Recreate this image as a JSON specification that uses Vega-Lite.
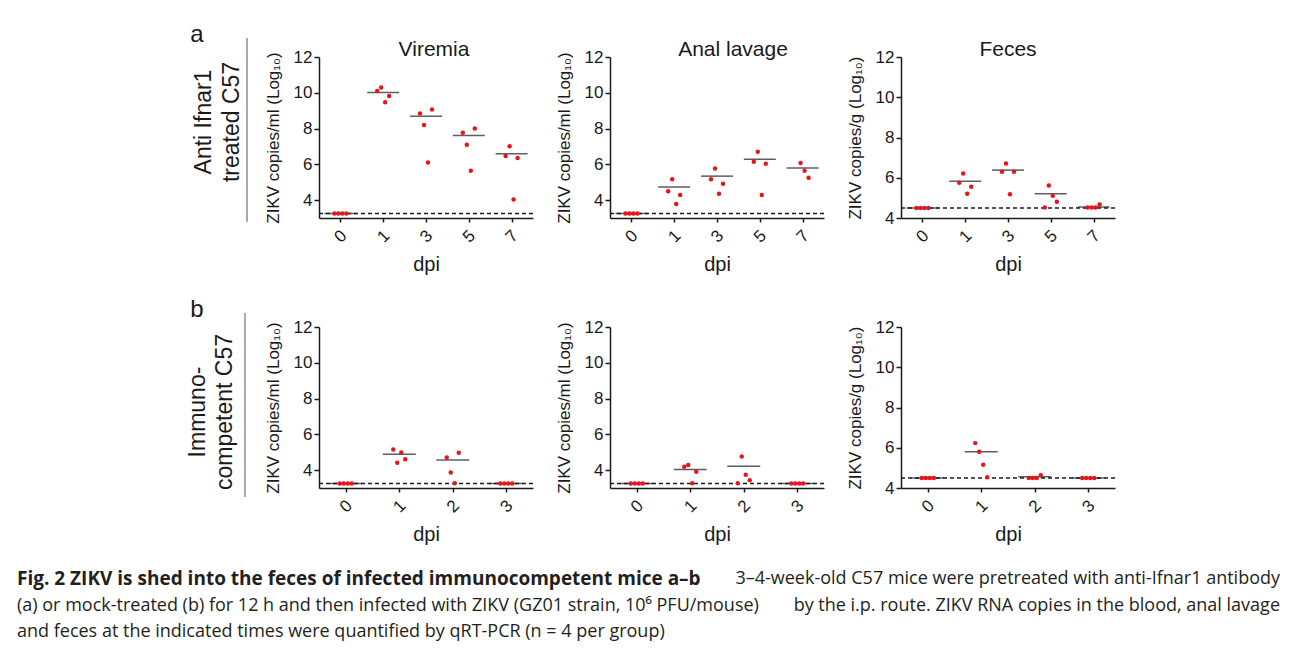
{
  "$schema": "https://vega.github.io/schema/vega-lite/v6.json",
  "background": "white",
  "padding": {"left": 17, "top": 23, "right": 0, "bottom": 0},
  "spacing": 23,
  "datasets": {
    "d": [
      {"row": "a", "tissue": "Viremia", "kind": "lod", "value": 3.25},
      {"row": "a", "tissue": "Viremia", "kind": "med", "dpi": "0", "value": 3.25},
      {"row": "a", "tissue": "Viremia", "kind": "med", "dpi": "1", "value": 10.01},
      {"row": "a", "tissue": "Viremia", "kind": "med", "dpi": "3", "value": 8.69},
      {"row": "a", "tissue": "Viremia", "kind": "med", "dpi": "5", "value": 7.61},
      {"row": "a", "tissue": "Viremia", "kind": "med", "dpi": "7", "value": 6.59},
      {"row": "a", "tissue": "Viremia", "kind": "pt", "dpi": "0", "mouse": 1, "value": 3.25},
      {"row": "a", "tissue": "Viremia", "kind": "pt", "dpi": "0", "mouse": 2, "value": 3.25},
      {"row": "a", "tissue": "Viremia", "kind": "pt", "dpi": "0", "mouse": 3, "value": 3.25},
      {"row": "a", "tissue": "Viremia", "kind": "pt", "dpi": "0", "mouse": 4, "value": 3.25},
      {"row": "a", "tissue": "Viremia", "kind": "pt", "dpi": "1", "mouse": 1, "value": 10.10},
      {"row": "a", "tissue": "Viremia", "kind": "pt", "dpi": "1", "mouse": 2, "value": 10.29},
      {"row": "a", "tissue": "Viremia", "kind": "pt", "dpi": "1", "mouse": 3, "value": 9.47},
      {"row": "a", "tissue": "Viremia", "kind": "pt", "dpi": "1", "mouse": 4, "value": 9.82},
      {"row": "a", "tissue": "Viremia", "kind": "pt", "dpi": "3", "mouse": 1, "value": 8.84},
      {"row": "a", "tissue": "Viremia", "kind": "pt", "dpi": "3", "mouse": 2, "value": 8.20},
      {"row": "a", "tissue": "Viremia", "kind": "pt", "dpi": "3", "mouse": 3, "value": 6.10},
      {"row": "a", "tissue": "Viremia", "kind": "pt", "dpi": "3", "mouse": 4, "value": 9.06},
      {"row": "a", "tissue": "Viremia", "kind": "pt", "dpi": "5", "mouse": 1, "value": 7.76},
      {"row": "a", "tissue": "Viremia", "kind": "pt", "dpi": "5", "mouse": 2, "value": 7.09},
      {"row": "a", "tissue": "Viremia", "kind": "pt", "dpi": "5", "mouse": 3, "value": 5.64},
      {"row": "a", "tissue": "Viremia", "kind": "pt", "dpi": "5", "mouse": 4, "value": 8.00},
      {"row": "a", "tissue": "Viremia", "kind": "pt", "dpi": "7", "mouse": 1, "value": 6.47},
      {"row": "a", "tissue": "Viremia", "kind": "pt", "dpi": "7", "mouse": 2, "value": 7.01},
      {"row": "a", "tissue": "Viremia", "kind": "pt", "dpi": "7", "mouse": 3, "value": 4.04},
      {"row": "a", "tissue": "Viremia", "kind": "pt", "dpi": "7", "mouse": 4, "value": 6.36},

      {"row": "a", "tissue": "Anal", "kind": "lod", "value": 3.25},
      {"row": "a", "tissue": "Anal", "kind": "med", "dpi": "0", "value": 3.25},
      {"row": "a", "tissue": "Anal", "kind": "med", "dpi": "1", "value": 4.73},
      {"row": "a", "tissue": "Anal", "kind": "med", "dpi": "3", "value": 5.34},
      {"row": "a", "tissue": "Anal", "kind": "med", "dpi": "5", "value": 6.29},
      {"row": "a", "tissue": "Anal", "kind": "med", "dpi": "7", "value": 5.80},
      {"row": "a", "tissue": "Anal", "kind": "pt", "dpi": "0", "mouse": 1, "value": 3.25},
      {"row": "a", "tissue": "Anal", "kind": "pt", "dpi": "0", "mouse": 2, "value": 3.25},
      {"row": "a", "tissue": "Anal", "kind": "pt", "dpi": "0", "mouse": 3, "value": 3.25},
      {"row": "a", "tissue": "Anal", "kind": "pt", "dpi": "0", "mouse": 4, "value": 3.25},
      {"row": "a", "tissue": "Anal", "kind": "pt", "dpi": "1", "mouse": 1, "value": 4.50},
      {"row": "a", "tissue": "Anal", "kind": "pt", "dpi": "1", "mouse": 2, "value": 5.17},
      {"row": "a", "tissue": "Anal", "kind": "pt", "dpi": "1", "mouse": 3, "value": 3.78},
      {"row": "a", "tissue": "Anal", "kind": "pt", "dpi": "1", "mouse": 4, "value": 4.28},
      {"row": "a", "tissue": "Anal", "kind": "pt", "dpi": "3", "mouse": 1, "value": 5.17},
      {"row": "a", "tissue": "Anal", "kind": "pt", "dpi": "3", "mouse": 2, "value": 5.77},
      {"row": "a", "tissue": "Anal", "kind": "pt", "dpi": "3", "mouse": 3, "value": 4.35},
      {"row": "a", "tissue": "Anal", "kind": "pt", "dpi": "3", "mouse": 4, "value": 4.91},
      {"row": "a", "tissue": "Anal", "kind": "pt", "dpi": "5", "mouse": 1, "value": 6.14},
      {"row": "a", "tissue": "Anal", "kind": "pt", "dpi": "5", "mouse": 2, "value": 6.70},
      {"row": "a", "tissue": "Anal", "kind": "pt", "dpi": "5", "mouse": 3, "value": 4.28},
      {"row": "a", "tissue": "Anal", "kind": "pt", "dpi": "5", "mouse": 4, "value": 6.03},
      {"row": "a", "tissue": "Anal", "kind": "pt", "dpi": "7", "mouse": 2, "value": 6.08},
      {"row": "a", "tissue": "Anal", "kind": "pt", "dpi": "7", "mouse": 3, "value": 5.64},
      {"row": "a", "tissue": "Anal", "kind": "pt", "dpi": "7", "mouse": 4, "value": 5.25},

      {"row": "a", "tissue": "Feces", "kind": "lod", "value": 4.5},
      {"row": "a", "tissue": "Feces", "kind": "med", "dpi": "0", "value": 4.5},
      {"row": "a", "tissue": "Feces", "kind": "med", "dpi": "1", "value": 5.83},
      {"row": "a", "tissue": "Feces", "kind": "med", "dpi": "3", "value": 6.38},
      {"row": "a", "tissue": "Feces", "kind": "med", "dpi": "5", "value": 5.21},
      {"row": "a", "tissue": "Feces", "kind": "med", "dpi": "7", "value": 4.55},
      {"row": "a", "tissue": "Feces", "kind": "pt", "dpi": "0", "mouse": 1, "value": 4.5},
      {"row": "a", "tissue": "Feces", "kind": "pt", "dpi": "0", "mouse": 2, "value": 4.5},
      {"row": "a", "tissue": "Feces", "kind": "pt", "dpi": "0", "mouse": 3, "value": 4.5},
      {"row": "a", "tissue": "Feces", "kind": "pt", "dpi": "0", "mouse": 4, "value": 4.5},
      {"row": "a", "tissue": "Feces", "kind": "pt", "dpi": "1", "mouse": 1, "value": 5.75},
      {"row": "a", "tissue": "Feces", "kind": "pt", "dpi": "1", "mouse": 2, "value": 6.21},
      {"row": "a", "tissue": "Feces", "kind": "pt", "dpi": "1", "mouse": 3, "value": 5.21},
      {"row": "a", "tissue": "Feces", "kind": "pt", "dpi": "1", "mouse": 4, "value": 5.55},
      {"row": "a", "tissue": "Feces", "kind": "pt", "dpi": "3", "mouse": 1, "value": 6.30},
      {"row": "a", "tissue": "Feces", "kind": "pt", "dpi": "3", "mouse": 2, "value": 6.71},
      {"row": "a", "tissue": "Feces", "kind": "pt", "dpi": "3", "mouse": 3, "value": 5.18},
      {"row": "a", "tissue": "Feces", "kind": "pt", "dpi": "3", "mouse": 4, "value": 6.30},
      {"row": "a", "tissue": "Feces", "kind": "pt", "dpi": "5", "mouse": 1, "value": 4.52},
      {"row": "a", "tissue": "Feces", "kind": "pt", "dpi": "5", "mouse": 2, "value": 5.61},
      {"row": "a", "tissue": "Feces", "kind": "pt", "dpi": "5", "mouse": 3, "value": 5.10},
      {"row": "a", "tissue": "Feces", "kind": "pt", "dpi": "5", "mouse": 4, "value": 4.81},
      {"row": "a", "tissue": "Feces", "kind": "pt", "dpi": "7", "mouse": 1, "value": 4.52},
      {"row": "a", "tissue": "Feces", "kind": "pt", "dpi": "7", "mouse": 2, "value": 4.52},
      {"row": "a", "tissue": "Feces", "kind": "pt", "dpi": "7", "mouse": 3, "value": 4.52},
      {"row": "a", "tissue": "Feces", "kind": "pt", "dpi": "7", "mouse": 4, "value": 4.67},

      {"row": "b", "tissue": "Viremia", "kind": "lod", "value": 3.25},
      {"row": "b", "tissue": "Viremia", "kind": "med", "dpi": "0", "value": 3.25},
      {"row": "b", "tissue": "Viremia", "kind": "med", "dpi": "1", "value": 4.89},
      {"row": "b", "tissue": "Viremia", "kind": "med", "dpi": "2", "value": 4.56},
      {"row": "b", "tissue": "Viremia", "kind": "med", "dpi": "3", "value": 3.25},
      {"row": "b", "tissue": "Viremia", "kind": "pt", "dpi": "0", "mouse": 1, "value": 3.25},
      {"row": "b", "tissue": "Viremia", "kind": "pt", "dpi": "0", "mouse": 2, "value": 3.25},
      {"row": "b", "tissue": "Viremia", "kind": "pt", "dpi": "0", "mouse": 3, "value": 3.25},
      {"row": "b", "tissue": "Viremia", "kind": "pt", "dpi": "0", "mouse": 4, "value": 3.25},
      {"row": "b", "tissue": "Viremia", "kind": "pt", "dpi": "1", "mouse": 1, "value": 5.15},
      {"row": "b", "tissue": "Viremia", "kind": "pt", "dpi": "1", "mouse": 2, "value": 4.41},
      {"row": "b", "tissue": "Viremia", "kind": "pt", "dpi": "1", "mouse": 3, "value": 4.99},
      {"row": "b", "tissue": "Viremia", "kind": "pt", "dpi": "1", "mouse": 4, "value": 4.61},
      {"row": "b", "tissue": "Viremia", "kind": "pt", "dpi": "2", "mouse": 1, "value": 4.71},
      {"row": "b", "tissue": "Viremia", "kind": "pt", "dpi": "2", "mouse": 2, "value": 3.87},
      {"row": "b", "tissue": "Viremia", "kind": "pt", "dpi": "2", "mouse": 3, "value": 3.26},
      {"row": "b", "tissue": "Viremia", "kind": "pt", "dpi": "2", "mouse": 4, "value": 4.97},
      {"row": "b", "tissue": "Viremia", "kind": "pt", "dpi": "3", "mouse": 1, "value": 3.25},
      {"row": "b", "tissue": "Viremia", "kind": "pt", "dpi": "3", "mouse": 2, "value": 3.25},
      {"row": "b", "tissue": "Viremia", "kind": "pt", "dpi": "3", "mouse": 3, "value": 3.25},
      {"row": "b", "tissue": "Viremia", "kind": "pt", "dpi": "3", "mouse": 4, "value": 3.25},

      {"row": "b", "tissue": "Anal", "kind": "lod", "value": 3.25},
      {"row": "b", "tissue": "Anal", "kind": "med", "dpi": "0", "value": 3.25},
      {"row": "b", "tissue": "Anal", "kind": "med", "dpi": "1", "value": 4.04},
      {"row": "b", "tissue": "Anal", "kind": "med", "dpi": "2", "value": 4.22},
      {"row": "b", "tissue": "Anal", "kind": "med", "dpi": "3", "value": 3.25},
      {"row": "b", "tissue": "Anal", "kind": "pt", "dpi": "0", "mouse": 1, "value": 3.25},
      {"row": "b", "tissue": "Anal", "kind": "pt", "dpi": "0", "mouse": 2, "value": 3.25},
      {"row": "b", "tissue": "Anal", "kind": "pt", "dpi": "0", "mouse": 3, "value": 3.25},
      {"row": "b", "tissue": "Anal", "kind": "pt", "dpi": "0", "mouse": 4, "value": 3.25},
      {"row": "b", "tissue": "Anal", "kind": "pt", "dpi": "1", "mouse": 1, "value": 4.19},
      {"row": "b", "tissue": "Anal", "kind": "pt", "dpi": "1", "mouse": 2, "value": 4.28},
      {"row": "b", "tissue": "Anal", "kind": "pt", "dpi": "1", "mouse": 3, "value": 3.27},
      {"row": "b", "tissue": "Anal", "kind": "pt", "dpi": "1", "mouse": 4, "value": 3.91},
      {"row": "b", "tissue": "Anal", "kind": "pt", "dpi": "2", "mouse": 1, "value": 3.27},
      {"row": "b", "tissue": "Anal", "kind": "pt", "dpi": "2", "mouse": 2, "value": 4.76},
      {"row": "b", "tissue": "Anal", "kind": "pt", "dpi": "2", "mouse": 3, "value": 3.74},
      {"row": "b", "tissue": "Anal", "kind": "pt", "dpi": "2", "mouse": 4, "value": 3.44},
      {"row": "b", "tissue": "Anal", "kind": "pt", "dpi": "3", "mouse": 1, "value": 3.25},
      {"row": "b", "tissue": "Anal", "kind": "pt", "dpi": "3", "mouse": 2, "value": 3.25},
      {"row": "b", "tissue": "Anal", "kind": "pt", "dpi": "3", "mouse": 3, "value": 3.25},
      {"row": "b", "tissue": "Anal", "kind": "pt", "dpi": "3", "mouse": 4, "value": 3.25},

      {"row": "b", "tissue": "Feces", "kind": "lod", "value": 4.5},
      {"row": "b", "tissue": "Feces", "kind": "med", "dpi": "0", "value": 4.5},
      {"row": "b", "tissue": "Feces", "kind": "med", "dpi": "1", "value": 5.80},
      {"row": "b", "tissue": "Feces", "kind": "med", "dpi": "2", "value": 4.56},
      {"row": "b", "tissue": "Feces", "kind": "med", "dpi": "3", "value": 4.5},
      {"row": "b", "tissue": "Feces", "kind": "pt", "dpi": "0", "mouse": 1, "value": 4.5},
      {"row": "b", "tissue": "Feces", "kind": "pt", "dpi": "0", "mouse": 2, "value": 4.5},
      {"row": "b", "tissue": "Feces", "kind": "pt", "dpi": "0", "mouse": 3, "value": 4.5},
      {"row": "b", "tissue": "Feces", "kind": "pt", "dpi": "0", "mouse": 4, "value": 4.5},
      {"row": "b", "tissue": "Feces", "kind": "pt", "dpi": "1", "mouse": 1, "value": 6.23},
      {"row": "b", "tissue": "Feces", "kind": "pt", "dpi": "1", "mouse": 2, "value": 5.80},
      {"row": "b", "tissue": "Feces", "kind": "pt", "dpi": "1", "mouse": 3, "value": 5.16},
      {"row": "b", "tissue": "Feces", "kind": "pt", "dpi": "1", "mouse": 4, "value": 4.53},
      {"row": "b", "tissue": "Feces", "kind": "pt", "dpi": "2", "mouse": 1, "value": 4.5},
      {"row": "b", "tissue": "Feces", "kind": "pt", "dpi": "2", "mouse": 2, "value": 4.5},
      {"row": "b", "tissue": "Feces", "kind": "pt", "dpi": "2", "mouse": 3, "value": 4.5},
      {"row": "b", "tissue": "Feces", "kind": "pt", "dpi": "2", "mouse": 4, "value": 4.64},
      {"row": "b", "tissue": "Feces", "kind": "pt", "dpi": "3", "mouse": 1, "value": 4.5},
      {"row": "b", "tissue": "Feces", "kind": "pt", "dpi": "3", "mouse": 2, "value": 4.5},
      {"row": "b", "tissue": "Feces", "kind": "pt", "dpi": "3", "mouse": 3, "value": 4.5},
      {"row": "b", "tissue": "Feces", "kind": "pt", "dpi": "3", "mouse": 4, "value": 4.5}
    ],
    "cap": [
      {"line": 1, "side": "left", "weight": "bold", "text": "Fig. 2 ZIKV is shed into the feces of infected immunocompetent mice a–b"},
      {"line": 1, "side": "right", "weight": "normal", "text": "3–4-week-old C57 mice were pretreated with anti-Ifnar1 antibody"},
      {"line": 2, "side": "left", "weight": "normal", "text": "(a) or mock-treated (b) for 12 h and then infected with ZIKV (GZ01 strain, 10⁶ PFU/mouse)"},
      {"line": 2, "side": "right", "weight": "normal", "text": "by the i.p. route. ZIKV RNA copies in the blood, anal lavage"},
      {"line": 3, "side": "left", "weight": "normal", "text": "and feces at the indicated times were quantified by qRT-PCR (n = 4 per group)"}
    ]
  },
  "config": {
    "font": "Liberation Sans",
    "view": {"stroke": null},
    "axis": {
      "domainColor": "#1a1a1a", "domainWidth": 1.5, "tickColor": "#1a1a1a", "tickWidth": 1.5,
      "labelColor": "#1a1a1a", "titleColor": "#1a1a1a", "grid": false,
      "labelFontSize": 17, "titleFontSize": 17, "titleFontWeight": "normal"
    },
    "axisX": {"labelAngle": -45, "labelAlign": "center", "labelBaseline": "middle", "labelPadding": 14, "tickSize": 4, "titleFontSize": 20, "titlePadding": 10},
    "axisY": {"tickSize": 5, "titlePadding": 11, "labelPadding": 2},
    "title": {"fontSize": 21, "fontWeight": "normal", "color": "#1a1a1a", "offset": -12}
  },
  "vconcat": [
    {
      "bounds": "flush",
      "spacing": 77,
      "hconcat": [
        {
          "width": 225, "height": 161,
          "data": {"values": [{"row": "a"}]},
          "layer": [
            {"mark": {"type": "text", "text": "a", "fontSize": 24, "align": "center", "baseline": "middle", "color": "#1a1a1a"},
             "encoding": {"x": {"datum": 180, "type": "quantitative", "scale": {"domain": [0, 225], "nice": false, "zero": false}, "axis": null},
                          "y": {"datum": -22, "type": "quantitative", "scale": {"domain": [0, 161], "reverse": true, "nice": false, "zero": false}, "axis": null}}},
            {"mark": {"type": "text", "text": ["Anti Ifnar1", "treated C57"], "angle": 270, "fontSize": 23, "lineHeight": 28, "align": "center", "baseline": "middle", "color": "#1a1a1a"},
             "encoding": {"x": {"datum": 187, "type": "quantitative"}, "y": {"datum": 65, "type": "quantitative"}}},
            {"mark": {"type": "rule", "color": "#555555", "strokeWidth": 1},
             "encoding": {"x": {"datum": 230, "type": "quantitative"}, "y": {"datum": -19, "type": "quantitative"}, "y2": {"datum": 165}}}
          ]
        },
        {
          "width": 214, "height": 161,
          "title": {"text": "Viremia", "dx": 8},
          "data": {"name": "d"},
          "transform": [{"filter": "datum.row === 'a' && datum.tissue === 'Viremia'"}],
          "layer": [
            {"transform": [{"filter": "datum.kind === 'lod'"}],
             "mark": {"type": "rule", "strokeDash": [4, 3], "strokeWidth": 1.5, "color": "#1a1a1a"},
             "encoding": {"y": {"field": "value", "type": "quantitative", "scale": {"domain": [3, 12], "nice": false, "zero": false}, "axis": {"values": [4, 6, 8, 10, 12]}, "title": "ZIKV copies/ml (Log₁₀)"}}},
            {"transform": [{"filter": "datum.kind === 'med'"}],
             "mark": {"type": "tick", "orient": "horizontal", "size": 32, "thickness": 1.5, "color": "#1a1a1a"},
             "encoding": {"x": {"field": "dpi", "type": "ordinal", "scale": {"type": "point", "domain": ["0", "1", "3", "5", "7"], "padding": 0.5}, "title": "dpi"},
                          "y": {"field": "value", "type": "quantitative"}}},
            {"transform": [{"filter": "datum.kind === 'pt'"}],
             "mark": {"type": "circle", "size": 20, "color": "#e8141b", "opacity": 1},
             "encoding": {"x": {"field": "dpi", "type": "ordinal"},
                          "xOffset": {"field": "mouse", "type": "nominal", "scale": {"type": "point", "range": [-8, 8]}},
                          "y": {"field": "value", "type": "quantitative"}}}
          ]
        },
        {
          "width": 214, "height": 161,
          "title": {"text": "Anal lavage", "dx": 16},
          "data": {"name": "d"},
          "transform": [{"filter": "datum.row === 'a' && datum.tissue === 'Anal'"}],
          "layer": [
            {"transform": [{"filter": "datum.kind === 'lod'"}],
             "mark": {"type": "rule", "strokeDash": [4, 3], "strokeWidth": 1.5, "color": "#1a1a1a"},
             "encoding": {"y": {"field": "value", "type": "quantitative", "scale": {"domain": [3, 12], "nice": false, "zero": false}, "axis": {"values": [4, 6, 8, 10, 12]}, "title": "ZIKV copies/ml (Log₁₀)"}}},
            {"transform": [{"filter": "datum.kind === 'med'"}],
             "mark": {"type": "tick", "orient": "horizontal", "size": 32, "thickness": 1.5, "color": "#1a1a1a"},
             "encoding": {"x": {"field": "dpi", "type": "ordinal", "scale": {"type": "point", "domain": ["0", "1", "3", "5", "7"], "padding": 0.5}, "title": "dpi"},
                          "y": {"field": "value", "type": "quantitative"}}},
            {"transform": [{"filter": "datum.kind === 'pt'"}],
             "mark": {"type": "circle", "size": 20, "color": "#e8141b", "opacity": 1},
             "encoding": {"x": {"field": "dpi", "type": "ordinal"},
                          "xOffset": {"field": "mouse", "type": "nominal", "scale": {"type": "point", "range": [-8, 8]}},
                          "y": {"field": "value", "type": "quantitative"}}}
          ]
        },
        {
          "width": 214, "height": 161,
          "title": {"text": "Feces"},
          "data": {"name": "d"},
          "transform": [{"filter": "datum.row === 'a' && datum.tissue === 'Feces'"}],
          "layer": [
            {"transform": [{"filter": "datum.kind === 'lod'"}],
             "mark": {"type": "rule", "strokeDash": [4, 3], "strokeWidth": 1.5, "color": "#1a1a1a"},
             "encoding": {"y": {"field": "value", "type": "quantitative", "scale": {"domain": [4, 12], "nice": false, "zero": false}, "axis": {"values": [4, 6, 8, 10, 12]}, "title": "ZIKV copies/g (Log₁₀)"}}},
            {"transform": [{"filter": "datum.kind === 'med'"}],
             "mark": {"type": "tick", "orient": "horizontal", "size": 32, "thickness": 1.5, "color": "#1a1a1a"},
             "encoding": {"x": {"field": "dpi", "type": "ordinal", "scale": {"type": "point", "domain": ["0", "1", "3", "5", "7"], "padding": 0.5}, "title": "dpi"},
                          "y": {"field": "value", "type": "quantitative"}}},
            {"transform": [{"filter": "datum.kind === 'pt'"}],
             "mark": {"type": "circle", "size": 20, "color": "#e8141b", "opacity": 1},
             "encoding": {"x": {"field": "dpi", "type": "ordinal"},
                          "xOffset": {"field": "mouse", "type": "nominal", "scale": {"type": "point", "range": [-8, 8]}},
                          "y": {"field": "value", "type": "quantitative"}}}
          ]
        }
      ]
    },
    {
      "bounds": "flush",
      "spacing": 77,
      "hconcat": [
        {
          "width": 225, "height": 161,
          "data": {"values": [{"row": "b"}]},
          "layer": [
            {"mark": {"type": "text", "text": "b", "fontSize": 24, "align": "center", "baseline": "middle", "color": "#1a1a1a"},
             "encoding": {"x": {"datum": 180, "type": "quantitative", "scale": {"domain": [0, 225], "nice": false, "zero": false}, "axis": null},
                          "y": {"datum": -17, "type": "quantitative", "scale": {"domain": [0, 161], "reverse": true, "nice": false, "zero": false}, "axis": null}}},
            {"mark": {"type": "text", "text": ["Immuno-", "competent C57"], "angle": 270, "fontSize": 23, "lineHeight": 27, "align": "center", "baseline": "middle", "color": "#1a1a1a"},
             "encoding": {"x": {"datum": 181, "type": "quantitative"}, "y": {"datum": 85, "type": "quantitative"}}},
            {"mark": {"type": "rule", "color": "#555555", "strokeWidth": 1},
             "encoding": {"x": {"datum": 228, "type": "quantitative"}, "y": {"datum": -14, "type": "quantitative"}, "y2": {"datum": 170}}}
          ]
        },
        {
          "width": 214, "height": 161,
          "data": {"name": "d"},
          "transform": [{"filter": "datum.row === 'b' && datum.tissue === 'Viremia'"}],
          "layer": [
            {"transform": [{"filter": "datum.kind === 'lod'"}],
             "mark": {"type": "rule", "strokeDash": [4, 3], "strokeWidth": 1.5, "color": "#1a1a1a"},
             "encoding": {"y": {"field": "value", "type": "quantitative", "scale": {"domain": [3, 12], "nice": false, "zero": false}, "axis": {"values": [4, 6, 8, 10, 12]}, "title": "ZIKV copies/ml (Log₁₀)"}}},
            {"transform": [{"filter": "datum.kind === 'med'"}],
             "mark": {"type": "tick", "orient": "horizontal", "size": 33, "thickness": 1.5, "color": "#1a1a1a"},
             "encoding": {"x": {"field": "dpi", "type": "ordinal", "scale": {"type": "point", "domain": ["0", "1", "2", "3"], "padding": 0.5}, "title": "dpi"},
                          "y": {"field": "value", "type": "quantitative"}}},
            {"transform": [{"filter": "datum.kind === 'pt'"}],
             "mark": {"type": "circle", "size": 20, "color": "#e8141b", "opacity": 1},
             "encoding": {"x": {"field": "dpi", "type": "ordinal"},
                          "xOffset": {"field": "mouse", "type": "nominal", "scale": {"type": "point", "range": [-8, 8]}},
                          "y": {"field": "value", "type": "quantitative"}}}
          ]
        },
        {
          "width": 214, "height": 161,
          "data": {"name": "d"},
          "transform": [{"filter": "datum.row === 'b' && datum.tissue === 'Anal'"}],
          "layer": [
            {"transform": [{"filter": "datum.kind === 'lod'"}],
             "mark": {"type": "rule", "strokeDash": [4, 3], "strokeWidth": 1.5, "color": "#1a1a1a"},
             "encoding": {"y": {"field": "value", "type": "quantitative", "scale": {"domain": [3, 12], "nice": false, "zero": false}, "axis": {"values": [4, 6, 8, 10, 12]}, "title": "ZIKV copies/ml (Log₁₀)"}}},
            {"transform": [{"filter": "datum.kind === 'med'"}],
             "mark": {"type": "tick", "orient": "horizontal", "size": 33, "thickness": 1.5, "color": "#1a1a1a"},
             "encoding": {"x": {"field": "dpi", "type": "ordinal", "scale": {"type": "point", "domain": ["0", "1", "2", "3"], "padding": 0.5}, "title": "dpi"},
                          "y": {"field": "value", "type": "quantitative"}}},
            {"transform": [{"filter": "datum.kind === 'pt'"}],
             "mark": {"type": "circle", "size": 20, "color": "#e8141b", "opacity": 1},
             "encoding": {"x": {"field": "dpi", "type": "ordinal"},
                          "xOffset": {"field": "mouse", "type": "nominal", "scale": {"type": "point", "range": [-8, 8]}},
                          "y": {"field": "value", "type": "quantitative"}}}
          ]
        },
        {
          "width": 214, "height": 161,
          "data": {"name": "d"},
          "transform": [{"filter": "datum.row === 'b' && datum.tissue === 'Feces'"}],
          "layer": [
            {"transform": [{"filter": "datum.kind === 'lod'"}],
             "mark": {"type": "rule", "strokeDash": [4, 3], "strokeWidth": 1.5, "color": "#1a1a1a"},
             "encoding": {"y": {"field": "value", "type": "quantitative", "scale": {"domain": [4, 12], "nice": false, "zero": false}, "axis": {"values": [4, 6, 8, 10, 12]}, "title": "ZIKV copies/g (Log₁₀)"}}},
            {"transform": [{"filter": "datum.kind === 'med'"}],
             "mark": {"type": "tick", "orient": "horizontal", "size": 33, "thickness": 1.5, "color": "#1a1a1a"},
             "encoding": {"x": {"field": "dpi", "type": "ordinal", "scale": {"type": "point", "domain": ["0", "1", "2", "3"], "padding": 0.5}, "title": "dpi"},
                          "y": {"field": "value", "type": "quantitative"}}},
            {"transform": [{"filter": "datum.kind === 'pt'"}],
             "mark": {"type": "circle", "size": 20, "color": "#e8141b", "opacity": 1},
             "encoding": {"x": {"field": "dpi", "type": "ordinal"},
                          "xOffset": {"field": "mouse", "type": "nominal", "scale": {"type": "point", "range": [-8, 8]}},
                          "y": {"field": "value", "type": "quantitative"}}}
          ]
        }
      ]
    },
    {
      "width": 1263, "height": 80,
      "data": {"name": "cap"},
      "encoding": {
        "x": {"field": "side", "type": "nominal", "scale": {"type": "point", "domain": ["left", "right"], "padding": 0}, "axis": null},
        "y": {"field": "line", "type": "ordinal", "scale": {"type": "point", "range": [11, 64], "padding": 0}, "axis": null},
        "text": {"field": "text", "type": "nominal"}
      },
      "layer": [
        {"transform": [{"filter": "datum.weight === 'bold'"}],
         "mark": {"type": "text", "align": "left", "baseline": "middle", "font": "Open Sans", "fontSize": 19, "fontWeight": "bold", "color": "#231f20"}},
        {"transform": [{"filter": "datum.weight === 'normal' && datum.side === 'left'"}],
         "mark": {"type": "text", "align": "left", "baseline": "middle", "font": "Open Sans", "fontSize": 18, "color": "#231f20"}},
        {"transform": [{"filter": "datum.weight === 'normal' && datum.side === 'right'"}],
         "mark": {"type": "text", "align": "right", "baseline": "middle", "font": "Open Sans", "fontSize": 18, "color": "#231f20"}}
      ]
    }
  ]
}
